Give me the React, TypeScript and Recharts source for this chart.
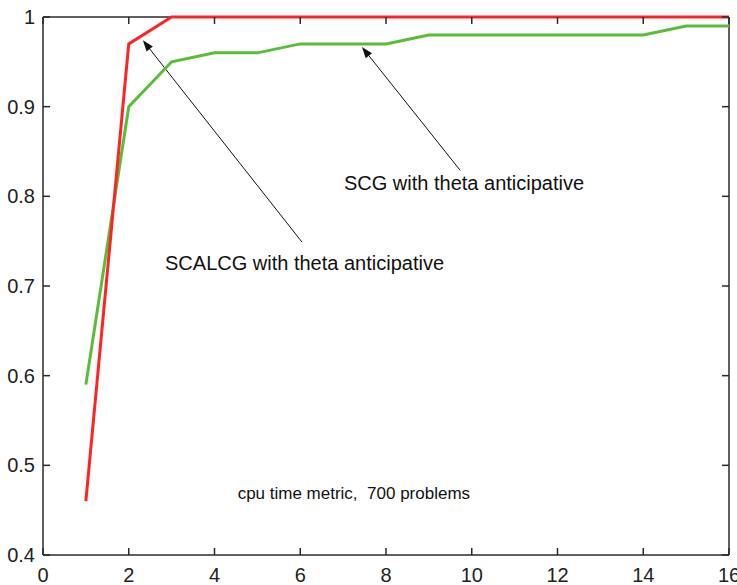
import React from "react";
import {
  LineChart,
  Line,
  XAxis,
  YAxis,
  ReferenceLine,
  ReferenceDot,
} from "recharts";

// problems solved fraction vs performance ratio (cpu time)
const xValues = [1, 2, 3, 4, 5, 6, 7, 8, 9, 10, 11, 12, 13, 14, 15, 16];
const scalcgValues = [0.46, 0.97, 1, 1, 1, 1, 1, 1, 1, 1, 1, 1, 1, 1, 1, 1];
const scgValues = [
  0.59, 0.9, 0.95, 0.96, 0.96, 0.97, 0.97, 0.97, 0.98, 0.98, 0.98, 0.98, 0.98,
  0.98, 0.99, 0.99,
];
const xTicks = [0, 2, 4, 6, 8, 10, 12, 14, 16];
const yTicks = [0.4, 0.5, 0.6, 0.7, 0.8, 0.9, 1];

const scalcgLabel = "SCALCG with theta anticipative";
const scgLabel = "SCG with theta anticipative";
const metricLabel = "cpu time metric,  700 problems";

const data = xValues.map((x, i) => ({
  x,
  scalcg: scalcgValues[i],
  scg: scgValues[i],
}));

const W = 737;
const H = 585;
const margin = { top: 17, right: 8, bottom: 0, left: 0 };
const Y_AXIS_W = 43;
const X_AXIS_H = 30;
const TICK_LEN = 7;
const X_GAP = 13;
const Y_GAP = 8;

const font = "'Liberation Sans', Arial, sans-serif";
const axisColor = "#2a2a2a";
const axisLine = { stroke: axisColor, strokeWidth: 1.5 };
const noLabel = () => <g />;

const fmtY = (v: number) => (v === 1 ? "1" : v.toFixed(1));

// bottom labels + inward tick marks on bottom and top edges
function XTick(props: any) {
  const { x, y, payload } = props;
  const bottom = y - X_GAP;
  const top = margin.top;
  return (
    <g>
      <line x1={x} x2={x} y1={bottom} y2={bottom - TICK_LEN} stroke={axisColor} strokeWidth={1.5} />
      <line x1={x} x2={x} y1={top} y2={top + TICK_LEN} stroke={axisColor} strokeWidth={1.5} />
      <text x={x} y={y} dy="0.71em" textAnchor="middle" fontSize={20} fontFamily={font} fill="#222">
        {payload.value}
      </text>
    </g>
  );
}

// left labels + inward tick marks on left and right edges
function YTick(props: any) {
  const { x, y, payload } = props;
  const left = x + Y_GAP;
  const right = W - margin.right;
  return (
    <g>
      <line x1={left} x2={left + TICK_LEN} y1={y} y2={y} stroke={axisColor} strokeWidth={1.5} />
      <line x1={right} x2={right - TICK_LEN} y1={y} y2={y} stroke={axisColor} strokeWidth={1.5} />
      <text x={x} y={y} dy="0.355em" textAnchor="end" fontSize={20} fontFamily={font} fill="#222">
        {fmtY(payload.value)}
      </text>
    </g>
  );
}

function Arrow(props: any) {
  const { x1, y1, x2, y2 } = props;
  const dx = x2 - x1;
  const dy = y2 - y1;
  const len = Math.sqrt(dx * dx + dy * dy) || 1;
  const ux = dx / len;
  const uy = dy / len;
  const headLen = 11;
  const headW = 4;
  const bx = x2 - ux * headLen;
  const by = y2 - uy * headLen;
  const pts = [
    `${x2},${y2}`,
    `${bx - uy * headW},${by + ux * headW}`,
    `${bx + uy * headW},${by - ux * headW}`,
  ].join(" ");
  return (
    <g>
      <line x1={x1} y1={y1} x2={bx} y2={by} stroke="#111" strokeWidth={1} />
      <polygon points={pts} fill="#111" />
    </g>
  );
}

function label(text: string, size: number) {
  return (props: any) => (
    <text
      x={props.cx}
      y={props.cy}
      textAnchor="middle"
      dominantBaseline="central"
      fontSize={size}
      fontFamily={font}
      fill="#111"
      style={{ whiteSpace: "pre" }}
    >
      {text}
    </text>
  );
}

export default function App() {
  return (
    <div style={{ position: "absolute", left: 0, top: 0, background: "#fff" }}>
      <LineChart
        width={W}
        height={H}
        data={data}
        margin={margin}
        style={{ fontFamily: font }}
      >
        {/* box: top and right edges */}
        <XAxis
          xAxisId="top"
          dataKey="x"
          type="number"
          orientation="top"
          domain={[0, 16]}
          allowDataOverflow
          ticks={xTicks}
          height={1}
          mirror
          axisLine={axisLine}
          tickLine={false}
          tick={noLabel}
        />
        <YAxis
          yAxisId="right"
          type="number"
          orientation="right"
          domain={[0.4, 1]}
          allowDataOverflow
          ticks={yTicks}
          width={1}
          mirror
          axisLine={axisLine}
          tickLine={false}
          tick={noLabel}
        />
        {/* label axes */}
        <XAxis
          dataKey="x"
          type="number"
          domain={[0, 16]}
          ticks={xTicks}
          height={X_AXIS_H}
          interval={0}
          axisLine={axisLine}
          tickLine={false}
          tickSize={0}
          tickMargin={X_GAP}
          tick={XTick}
        />
        <YAxis
          type="number"
          domain={[0.4, 1]}
          ticks={yTicks}
          width={Y_AXIS_W}
          interval={0}
          axisLine={axisLine}
          tickLine={false}
          tickSize={0}
          tickMargin={Y_GAP}
          tick={YTick}
        />
        <Line
          dataKey="scg"
          stroke="#58be36"
          strokeWidth={3}
          dot={false}
          isAnimationActive={false}
          zIndex={900}
        />
        <Line
          dataKey="scalcg"
          stroke="#ff2424"
          strokeWidth={3}
          dot={false}
          isAnimationActive={false}
          zIndex={900}
        />
        <ReferenceLine
          segment={[
            { x: 6.04, y: 0.749 },
            { x: 2.33, y: 0.974 },
          ]}
          shape={Arrow}
        />
        <ReferenceLine
          segment={[
            { x: 9.73, y: 0.829 },
            { x: 7.44, y: 0.9665 },
          ]}
          shape={Arrow}
        />
        <ReferenceDot x={6.1} y={0.726} r={0} shape={label(scalcgLabel, 20)} />
        <ReferenceDot x={9.82} y={0.815} r={0} shape={label(scgLabel, 20)} />
        <ReferenceDot x={7.25} y={0.469} r={0} shape={label(metricLabel, 17)} />
      </LineChart>
    </div>
  );
}
